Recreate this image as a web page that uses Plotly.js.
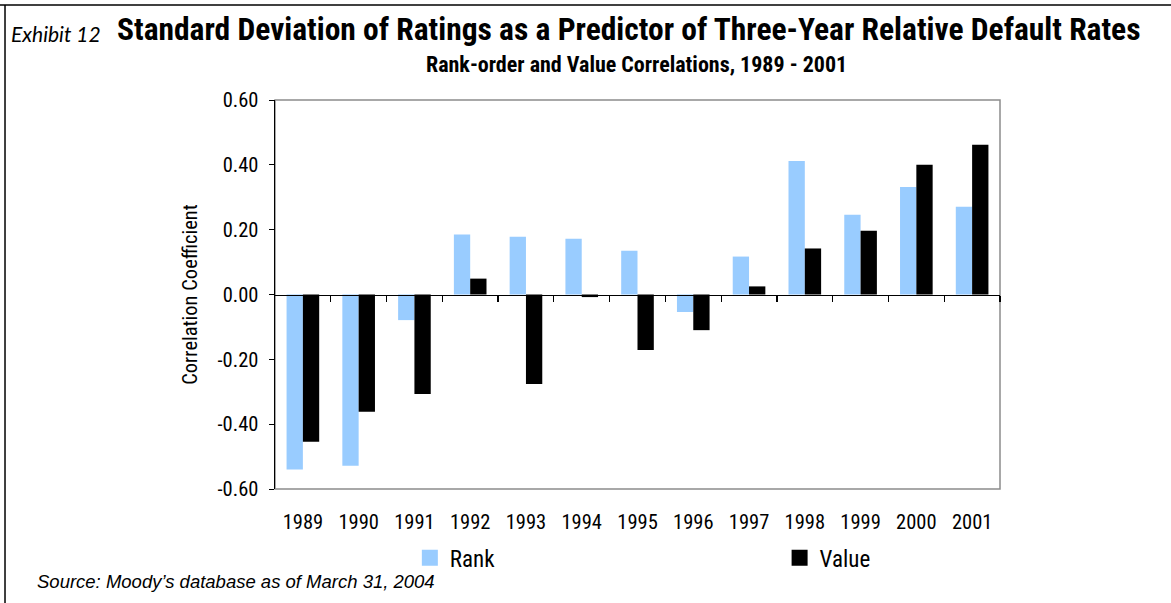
<!DOCTYPE html>
<html>
<head>
<meta charset="utf-8">
<script src="https://cdn.plot.ly/plotly-3.0.1.min.js"></script>
<style>html,body{margin:0;padding:0;background:#fff;}#chart{width:1171px;height:603px;}</style>
</head>
<body>
<div id="chart"></div>
<script>
const years = ['1989','1990','1991','1992','1993','1994','1995','1996','1997','1998','1999','2000','2001'];
const rankValues = [-0.54, -0.528, -0.079, 0.185, 0.178, 0.172, 0.135, -0.054, 0.117, 0.412, 0.246, 0.332, 0.271];
const valueValues = [-0.454, -0.362, -0.307, 0.049, -0.276, -0.008, -0.171, -0.11, 0.025, 0.142, 0.197, 0.40, 0.462];
const yTickVals = [-0.6, -0.4, -0.2, 0, 0.2, 0.4, 0.6];
const yTickText = ['-0.60', '-0.40', '-0.20', '0.00', '0.20', '0.40', '0.60'];
const seriesNames = ['Rank', 'Value'];
const seriesColors = ['#99CCFF', '#000000'];

const FONT = '"Roboto Condensed", "Open Sans Condensed", sans-serif';

const traces = [
  {type: 'bar', x: years, y: rankValues, name: seriesNames[0], marker: {color: seriesColors[0]}, showlegend: false},
  {type: 'bar', x: years, y: valueValues, name: seriesNames[1], marker: {color: seriesColors[1]}, showlegend: false},
  {type: 'scatter', mode: 'markers', x: [null], y: [null], xaxis: 'x2', name: seriesNames[0], legend: 'legend',
   marker: {symbol: 'square', size: 16, color: seriesColors[0]}},
  {type: 'scatter', mode: 'markers', x: [null], y: [null], xaxis: 'x2', name: seriesNames[1], legend: 'legend2',
   marker: {symbol: 'square', size: 16, color: seriesColors[1]}}
];

const legendFont = {family: FONT, size: 23, color: '#000'};

const layout = {
  width: 1171, height: 603,
  margin: {l: 275, r: 171, t: 100, b: 114, pad: 0},
  paper_bgcolor: '#ffffff', plot_bgcolor: '#ffffff',
  font: {family: FONT, size: 20, color: '#000'},
  barmode: 'group', bargap: 0.415, bargroupgap: 0,
  xaxis: {
    type: 'category', showline: false, ticks: '', showgrid: false, zeroline: false,
    ticklabelstandoff: 18,
    tickfont: {family: FONT, size: 20.5, color: '#000'}, automargin: false
  },
  xaxis2: {
    type: 'linear', overlaying: 'x', anchor: 'free', position: 0.5, range: [-0.5, 12.5],
    tickvals: years.map((_, i) => i + 0.5), showticklabels: false, ticks: 'outside', ticklen: 6,
    tickcolor: '#000', tickwidth: 1.2, showline: true, linecolor: '#000', linewidth: 1.5,
    showgrid: false, zeroline: false, fixedrange: true
  },
  yaxis: {
    range: [-0.6, 0.6], tickvals: yTickVals, ticktext: yTickText, ticks: 'outside', ticklen: 5,
    tickcolor: '#000', tickwidth: 1, showline: true, linecolor: '#000', linewidth: 1.5,
    showgrid: false, zeroline: false, automargin: false, ticklabelstandoff: 6,
    tickfont: {family: FONT, size: 20.5, color: '#000'},
    title: {text: 'Correlation Coefficient', font: {family: FONT, size: 20.5, color: '#000'}, standoff: 14}
  },
  legend: {
    orientation: 'h', x: 0.186, xanchor: 'left', y: -0.177, yanchor: 'middle',
    font: legendFont, bgcolor: 'rgba(0,0,0,0)'
  },
  legend2: {
    orientation: 'h', x: 0.696, xanchor: 'left', y: -0.177, yanchor: 'middle',
    font: legendFont, bgcolor: 'rgba(0,0,0,0)'
  },
  shapes: [
    {type: 'rect', xref: 'paper', yref: 'paper', x0: 0, x1: 1, y0: 0, y1: 1, line: {color: '#8c8c8c', width: 1.5}, layer: 'below'},
    {type: 'line', xref: 'paper', yref: 'paper', x0: -0.3793, x1: 1.24, y0: 1.2442, y1: 1.2442, line: {color: '#000', width: 1.5}},
    {type: 'line', xref: 'paper', yref: 'paper', x0: -0.3724, x1: -0.3724, y0: 1.2442, y1: -0.30, line: {color: '#000', width: 1.5}}
  ],
  annotations: [
    {xref: 'paper', yref: 'paper', x: -0.3665, y: 1.1697, xanchor: 'left', yanchor: 'middle', showarrow: false,
     text: '<i>Exhibit 12</i>', font: {family: 'Lato, "Open Sans", sans-serif', size: 21, color: '#000'}},
    {xref: 'paper', yref: 'paper', x: -0.2207, y: 1.18, xanchor: 'left', yanchor: 'middle', showarrow: false,
     text: '<b>Standard Deviation of Ratings as a Predictor of Three-Year Relative Default Rates</b>', font: {family: FONT, size: 31.5, color: '#000'}},
    {xref: 'paper', yref: 'paper', x: 0.4993, y: 1.092, xanchor: 'center', yanchor: 'middle', showarrow: false,
     text: '<b>Rank-order and Value Correlations, 1989 - 2001</b>', font: {family: FONT, size: 22, color: '#000'}},
    {xref: 'paper', yref: 'paper', x: -0.331, y: -0.237, xanchor: 'left', yanchor: 'middle', showarrow: false,
     text: '<i>Source: Moody\u2019s database as of March 31, 2004</i>', font: {family: '"Liberation Sans", Arial, sans-serif', size: 18.5, color: '#000'}}
  ]
};

Plotly.newPlot('chart', traces, layout, {displayModeBar: false, staticPlot: true});
</script>
</body>
</html>
